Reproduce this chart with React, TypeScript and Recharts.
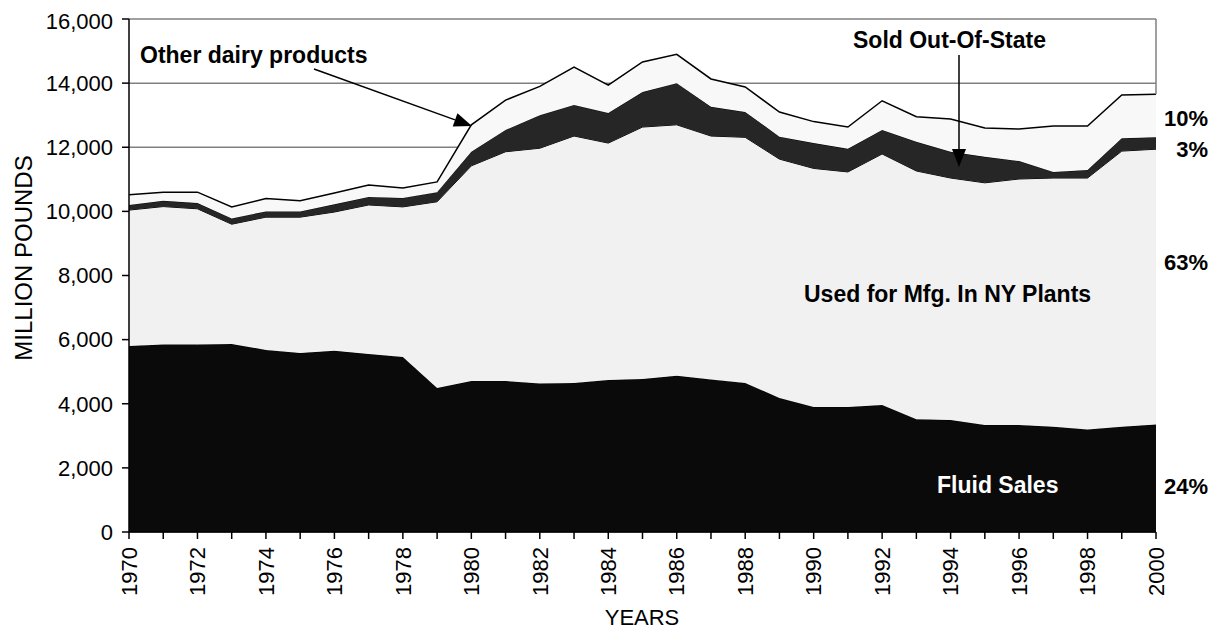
import React from 'react';
import { AreaChart, Area, XAxis, YAxis, CartesianGrid, ReferenceLine } from 'recharts';

const years = [
  1970, 1971, 1972, 1973, 1974, 1975, 1976, 1977, 1978, 1979,
  1980, 1981, 1982, 1983, 1984, 1985, 1986, 1987, 1988, 1989,
  1990, 1991, 1992, 1993, 1994, 1995, 1996, 1997, 1998, 1999, 2000,
];

// million pounds, per use
const fluidSales = [
  5800, 5850, 5850, 5860, 5680, 5580, 5650, 5550, 5460, 4490,
  4710, 4710, 4630, 4650, 4740, 4770, 4870, 4760, 4650, 4180,
  3900, 3900, 3960, 3520, 3490, 3340, 3340, 3280, 3200, 3280, 3350,
];
const usedForMfg = [
  4240, 4300, 4230, 3740, 4140, 4240, 4330, 4650, 4680, 5810,
  6710, 7150, 7340, 7700, 7390, 7860, 7830, 7590, 7660, 7450,
  7440, 7330, 7830, 7740, 7550, 7550, 7670, 7760, 7840, 8600, 8590,
];
const soldOutOfState = [
  160, 180, 180, 180, 180, 180, 240, 250, 280, 300,
  440, 680, 1030, 970, 940, 1090, 1300, 910, 790, 700,
  790, 720, 750, 910, 820, 810, 560, 190, 250, 400, 370,
];
const otherDairy = [
  320, 270, 340, 360, 400, 330, 350, 370, 310, 320,
  840, 930, 900, 1180, 870, 940, 900, 870, 780, 770,
  670, 680, 910, 780, 1020, 900, 1000, 1430, 1370, 1350, 1340,
];

const yTicks = [0, 2000, 4000, 6000, 8000, 10000, 12000, 14000, 16000];
const shareLabels = ['10%', '3%', '63%', '24%'];

const data = years.map((year, i) => ({
  year,
  fluid: fluidSales[i],
  mfg: usedForMfg[i],
  sold: soldOutOfState[i],
  other: otherDairy[i],
}));

const lastTotal =
  fluidSales[30] + usedForMfg[30] + soldOutOfState[30] + otherDairy[30];

const FONT = '"Liberation Sans", Arial, Helvetica, sans-serif';

const YearTick = (props: any) => {
  const { x, y, payload } = props;
  if (payload.value % 2 !== 0) return <g />;
  return (
    <g transform={`translate(${x},${y})`}>
      <text
        x={-6}
        y={0}
        dy="0.35em"
        transform="rotate(-90)"
        textAnchor="end"
        fill="#000"
        fontSize={22}
        fontFamily={FONT}
      >
        {payload.value}
      </text>
    </g>
  );
};

const Arrow = ({ x1, y1, x2, y2 }: { x1: number; y1: number; x2: number; y2: number }) => {
  const a = Math.atan2(y2 - y1, x2 - x1);
  const len = 18;
  const half = 7;
  const bx = x2 - len * Math.cos(a);
  const by = y2 - len * Math.sin(a);
  const px = -Math.sin(a) * half;
  const py = Math.cos(a) * half;
  return (
    <g>
      <line x1={x1} y1={y1} x2={bx} y2={by} stroke="#000" strokeWidth={1.5} />
      <polygon points={`${x2},${y2} ${bx + px},${by + py} ${bx - px},${by - py}`} fill="#000" />
    </g>
  );
};

export default function App() {
  const W = 1211;
  const H = 625;
  const bold = { fontFamily: FONT, fontWeight: 700, fontSize: 23, fill: '#000' };
  return (
    <div style={{ position: 'relative', width: W, height: H, background: '#fff' }}>
      <AreaChart
        width={W}
        height={H}
        data={data}
        margin={{ top: 11, right: 63, bottom: 0, left: 0 }}
      >
        <CartesianGrid vertical={false} stroke="#808080" strokeWidth={1.5} />
        <XAxis
          dataKey="year"
          type="number"
          domain={[1970, 2000]}
          ticks={years}
          interval={0}
          height={101}
          tick={<YearTick />}
          tickSize={7}
          axisLine={{ stroke: '#000', strokeWidth: 1.5 }}
          tickLine={{ stroke: '#000', strokeWidth: 1.5 }}
        />
        <YAxis
          domain={[0, 16000]}
          ticks={yTicks}
          width={121}
          tickSize={7}
          tickMargin={9}
          tickFormatter={(v: number) => v.toLocaleString('en-US')}
          tick={{ fill: '#000', fontSize: 22, fontFamily: FONT }}
          axisLine={{ stroke: '#000', strokeWidth: 1.5 }}
          tickLine={{ stroke: '#000', strokeWidth: 1.5 }}
        />
        <Area type="linear" dataKey="fluid" stackId="1" stroke="#000" strokeWidth={1} fill="#0a0a0a" fillOpacity={1} isAnimationActive={false} />
        <Area type="linear" dataKey="mfg" stackId="1" stroke="#000" strokeWidth={1} fill="#f1f1f1" fillOpacity={1} isAnimationActive={false} />
        <Area type="linear" dataKey="sold" stackId="1" stroke="#000" strokeWidth={1} fill="#262626" fillOpacity={1} isAnimationActive={false} />
        <Area type="linear" dataKey="other" stackId="1" stroke="#000" strokeWidth={1.5} fill="#f8f8f8" fillOpacity={1} isAnimationActive={false} />
        <ReferenceLine
          segment={[{ x: 2000, y: 16000 }, { x: 2000, y: lastTotal }]}
          stroke="#808080"
          strokeWidth={1.5}
        />
      </AreaChart>
      <svg
        width={W}
        height={H}
        style={{ position: 'absolute', left: 0, top: 0, pointerEvents: 'none' }}
      >
        <text
          transform="translate(15,250) rotate(-90)"
          textAnchor="middle"
          dominantBaseline="central"
          fontFamily={FONT}
          fontSize={24}
          fill="#000"
        >
          MILLION POUNDS
        </text>
        <text x={634} y={617} textAnchor="middle" fontFamily={FONT} fontSize={22} fill="#000">
          YEARS
        </text>
        <text x={132} y={55} {...bold}>Other dairy products</text>
        <Arrow x1={306} y1={61} x2={464} y2={118} />
        <text x={845} y={40} {...bold}>Sold Out-Of-State</text>
        <Arrow x1={951} y1={47} x2={951} y2={159} />
        <text x={796} y={294} {...bold}>Used for Mfg. In NY Plants</text>
        <text x={929} y={485} {...bold} fill="#fff">Fluid Sales</text>
        <text x={1200} y={118} textAnchor="end" {...bold} fontSize={22}>{shareLabels[0]}</text>
        <text x={1200} y={149} textAnchor="end" {...bold} fontSize={22}>{shareLabels[1]}</text>
        <text x={1200} y={262} textAnchor="end" {...bold} fontSize={22}>{shareLabels[2]}</text>
        <text x={1200} y={486} textAnchor="end" {...bold} fontSize={22}>{shareLabels[3]}</text>
      </svg>
    </div>
  );
}
